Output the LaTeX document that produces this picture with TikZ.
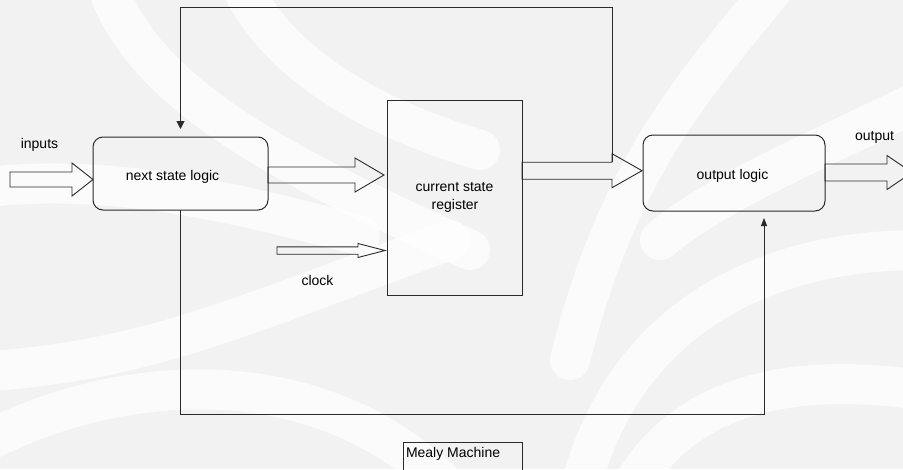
\documentclass[tikz,border=0pt]{standalone}
\usepackage{fontspec}
\setmainfont{Liberation Sans}
\usetikzlibrary{calc,arrows.meta}

\definecolor{paper}{HTML}{F2F2F2}
\definecolor{ink}{HTML}{2A2A2A}

% hollow block arrow: #1 tail coordinate, #2 tip coordinate,
% #3 half shaft height, #4 half head height, #5 head length
\newcommand\hollowarrow[5]{%
  \draw[blockarrow] ($(#1 |- #2)+(0,-#3)$) -- ($(#2)+(-#5,-#3)$)
    -- ($(#2)+(-#5,-#4)$) -- (#2) -- ($(#2)+(-#5,#4)$)
    -- ($(#2)+(-#5,#3)$) -- ($(#1 |- #2)+(0,#3)$) -- cycle;}

\begin{document}
\begin{tikzpicture}[x=1pt,y=-1pt,
  every node/.style={inner sep=0pt, outer sep=0pt},
  logicbox/.style={draw=ink, line width=1pt, rounded corners=10pt},
  regbox/.style={draw=ink, line width=1pt},
  lbl/.style={font=\fontsize{14}{16}\selectfont, text=black, anchor=base},
  blockarrow/.style={draw=ink, line width=0.9pt, line join=miter},
  wire/.style={draw=ink, line width=1pt},
  wirearrow/.style={wire, -{Triangle[width=8pt,length=8pt]}},
  swirl/.style={white, opacity=0.75, line width=40pt, line cap=round}]

\useasboundingbox (0,0) rectangle (903,469);
\fill[paper] (0,0) rectangle (903,469);

% faint watermark swirls in the background
\begin{scope}
  \clip (0,0) rectangle (903,469);
  \draw[swirl] (105,-20) .. controls (140,90) and (270,160) .. (470,250);
  \draw[swirl] (238,-20) .. controls (280,70) and (380,120) .. (480,150);
  \draw[swirl] (-20,188) .. controls (120,170) and (260,210) .. (360,235);
  \draw[swirl] (-20,372) .. controls (150,360) and (230,320) .. (450,240);
  \draw[swirl] (-20,445) .. controls (100,380) and (300,350) .. (440,480);
  \draw[swirl] (580,490) .. controls (620,330) and (750,250) .. (920,250);
  \draw[swirl] (630,490) .. controls (680,400) and (780,370) .. (920,390);
  \draw[swirl] (780,-20) .. controls (700,80) and (620,160) .. (570,360);
  \draw[swirl] (920,100) .. controls (820,150) and (720,190) .. (660,240);
\end{scope}

% blocks
\node[logicbox, minimum width=175pt, minimum height=73pt] (nsl) at (180.5,173.5) {};
\node[regbox, minimum width=135pt, minimum height=195pt] (reg) at (454.5,197.5) {};
\node[logicbox, minimum width=182pt, minimum height=76pt] (outl) at (734,173) {};
\node[regbox, anchor=north west, minimum width=119pt, minimum height=40pt] (mealy) at (403,442) {};

% texts
\node[lbl] (nsltext) at (172.5,180) {next state logic};
\node[lbl] (regtext1) at (454.5,191) {current state};
\node[lbl] (regtext2) at (455,209) {register};
\node[lbl] (outltext) at (732.5,179) {output logic};
\node[lbl] (inlabel) at (39.5,148) {inputs};
\node[lbl] (outlabel) at (874.5,140) {output};
\node[lbl] (clklabel) at (317.5,285) {clock};
\node[lbl, anchor=base west] (mealytext) at (406,457) {Mealy Machine};

% block arrow end points
\coordinate (intail) at (10,179.5);
\coordinate (intip) at ($(nsl.west)+(0,6)$);
\coordinate (nrtip) at (384,175);
\coordinate (clktail) at (277,250.5);
\coordinate (clktip) at (385,250.5);
\coordinate (rotip) at (642,170.7);
\coordinate (outtip) at (912,172.5);

\hollowarrow{intail}{intip}{7.5}{16.5}{21}
\hollowarrow{nsl.east}{nrtip}{8}{17}{29}
\hollowarrow{clktail}{clktip}{3.7}{7}{27}
\hollowarrow{reg.east}{rotip}{8.5}{17}{30}
\hollowarrow{outl.east}{outtip}{8.5}{17}{25}

% feedback from the register output back to the next state logic
\coordinate (fbstart) at ($(rotip)+(-30,-8.5)$);
\coordinate (fbend) at ($(nsl.north)+(0,-8)$);
\draw[wirearrow] (fbstart) |- (180.5,7.5) -- (fbend);

% next state logic to output logic (Mealy path)
\coordinate (mpend) at ($(outl.south)+(30,7)$);
\draw[wire, -{Triangle[width=6pt,length=8pt]}] (nsl.south) |- (764,414.5) -- (mpend);

\end{tikzpicture}
\end{document}
